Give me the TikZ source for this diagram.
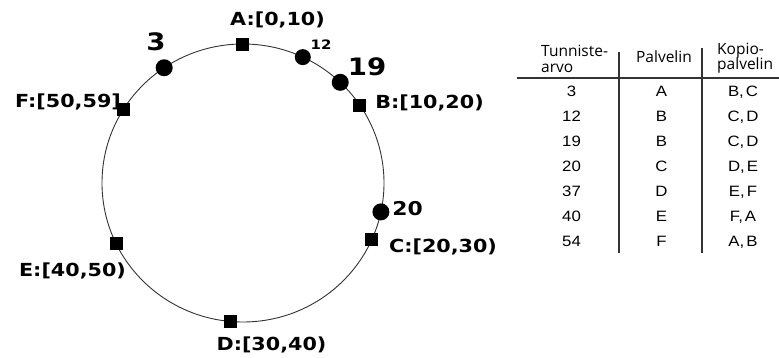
\documentclass[tikz,border=0pt]{standalone}
\usepackage{fontspec}
\newfontfamily\labfont{DejaVu Sans Bold}[FakeStretch=1.15]
\newfontfamily\tabfont{Liberation Sans}[FakeStretch=1.12]
\newfontfamily\headfont{Open Sans}
\newcommand{\pr}[2]{#1,\kern2pt#2}
\begin{document}
\begin{tikzpicture}[x=1pt,y=1pt,
  ring/.style={draw=black!80, line width=0.9pt},
  sq/.style={rectangle, fill=black, minimum size=13pt, inner sep=0pt},
  dot/.style={circle, fill=black, minimum size=17pt, inner sep=0pt},
  lab/.style={font=\labfont\fontsize{18}{20}\selectfont, inner sep=0pt},
  biglab/.style={font=\labfont\fontsize{24}{26}\selectfont, inner sep=0pt},
  midlab/.style={font=\labfont\fontsize{19}{21}\selectfont, inner sep=0pt},
  smalllab/.style={font=\labfont\fontsize{13}{15}\selectfont, inner sep=0pt},
  head/.style={font=\headfont\fontsize{15.5}{17}\selectfont, inner sep=0pt},
  cell/.style={font=\tabfont\fontsize{15}{17}\selectfont, inner sep=0pt, anchor=base},
  rule/.style={draw=black!80, line width=1.3pt}]
\useasboundingbox (0,0) rectangle (779,358);
\coordinate (c) at (243,175);
% labels (drawn first so markers sit on top)
\node[lab] (lA) at (277.5,338) {A:[0,10)};
\node[lab] (lB) at (429.5,255) {B:[10,20)};
\node[lab] (lC) at (443,111) {C:[20,30)};
\node[lab] (lD) at (271.5,13) {D:[30,40)};
\node[lab] (lE) at (72.5,87) {E:[40,50)};
\node[lab] (lF) at (68,256) {F:[50,59]};
\node[biglab] (l3) at (156,316) {3};
\node[smalllab] (l12) at (321,313) {12};
\node[biglab] (l19) at (367,291) {19};
\node[midlab] (l20) at (407.5,149) {20};
% ring
\draw[ring] (c) ellipse [x radius=141, y radius=139];
\begin{scope}[shift={(c)}]
  \node[sq] (A) at (90.4:141 and 139) {};
  \node[sq] (B) at (34.1:141 and 139) {};
  \node[sq] (C) at (-24:141 and 139) {};
  \node[sq] (D) at (-95:141 and 139) {};
  \node[sq] (E) at (206:141 and 139) {};
  \node[sq] (F) at (148.1:141 and 139) {};
  \node[dot] (k3) at (124:141 and 139) {};
  \node[dot, minimum size=16pt] (k12) at (64.9:141 and 139) {};
  \node[dot] (k19) at (46.4:141 and 139) {};
  \node[dot] (k20) at (-12:141 and 139) {};
\end{scope}
% table
\draw[rule] (517,280) -- (779,280);
\draw[rule] (619,306) -- (619,105);
\draw[rule] (702,310) -- (702,105);
\node[head, anchor=base west] (h1a) at (541,301) {Tunniste-};
\node[head, anchor=base west] (h1b) at (541,285) {arvo};
\node[head, anchor=base] (h2) at (664,295) {Palvelin};
\node[head, anchor=base west] (h3a) at (717,303) {Kopio-};
\node[head, anchor=base west] (h3b) at (717,288) {palvelin};
\foreach \i/\k/\p/\r/\s [count=\n] in {261/3/A/B/C, 236/12/B/C/D, 211/19/B/C/D, 186/20/C/D/E, 161/37/D/E/F, 136/40/E/F/A, 111/54/F/A/B}{
  \node[cell] (t\n a) at (571.5,\i) {\k};
  \node[cell] (t\n b) at (661.5,\i) {\p};
  \node[cell] (t\n c) at (743,\i) {\pr{\r}{\s}};
}
\end{tikzpicture}
\end{document}
